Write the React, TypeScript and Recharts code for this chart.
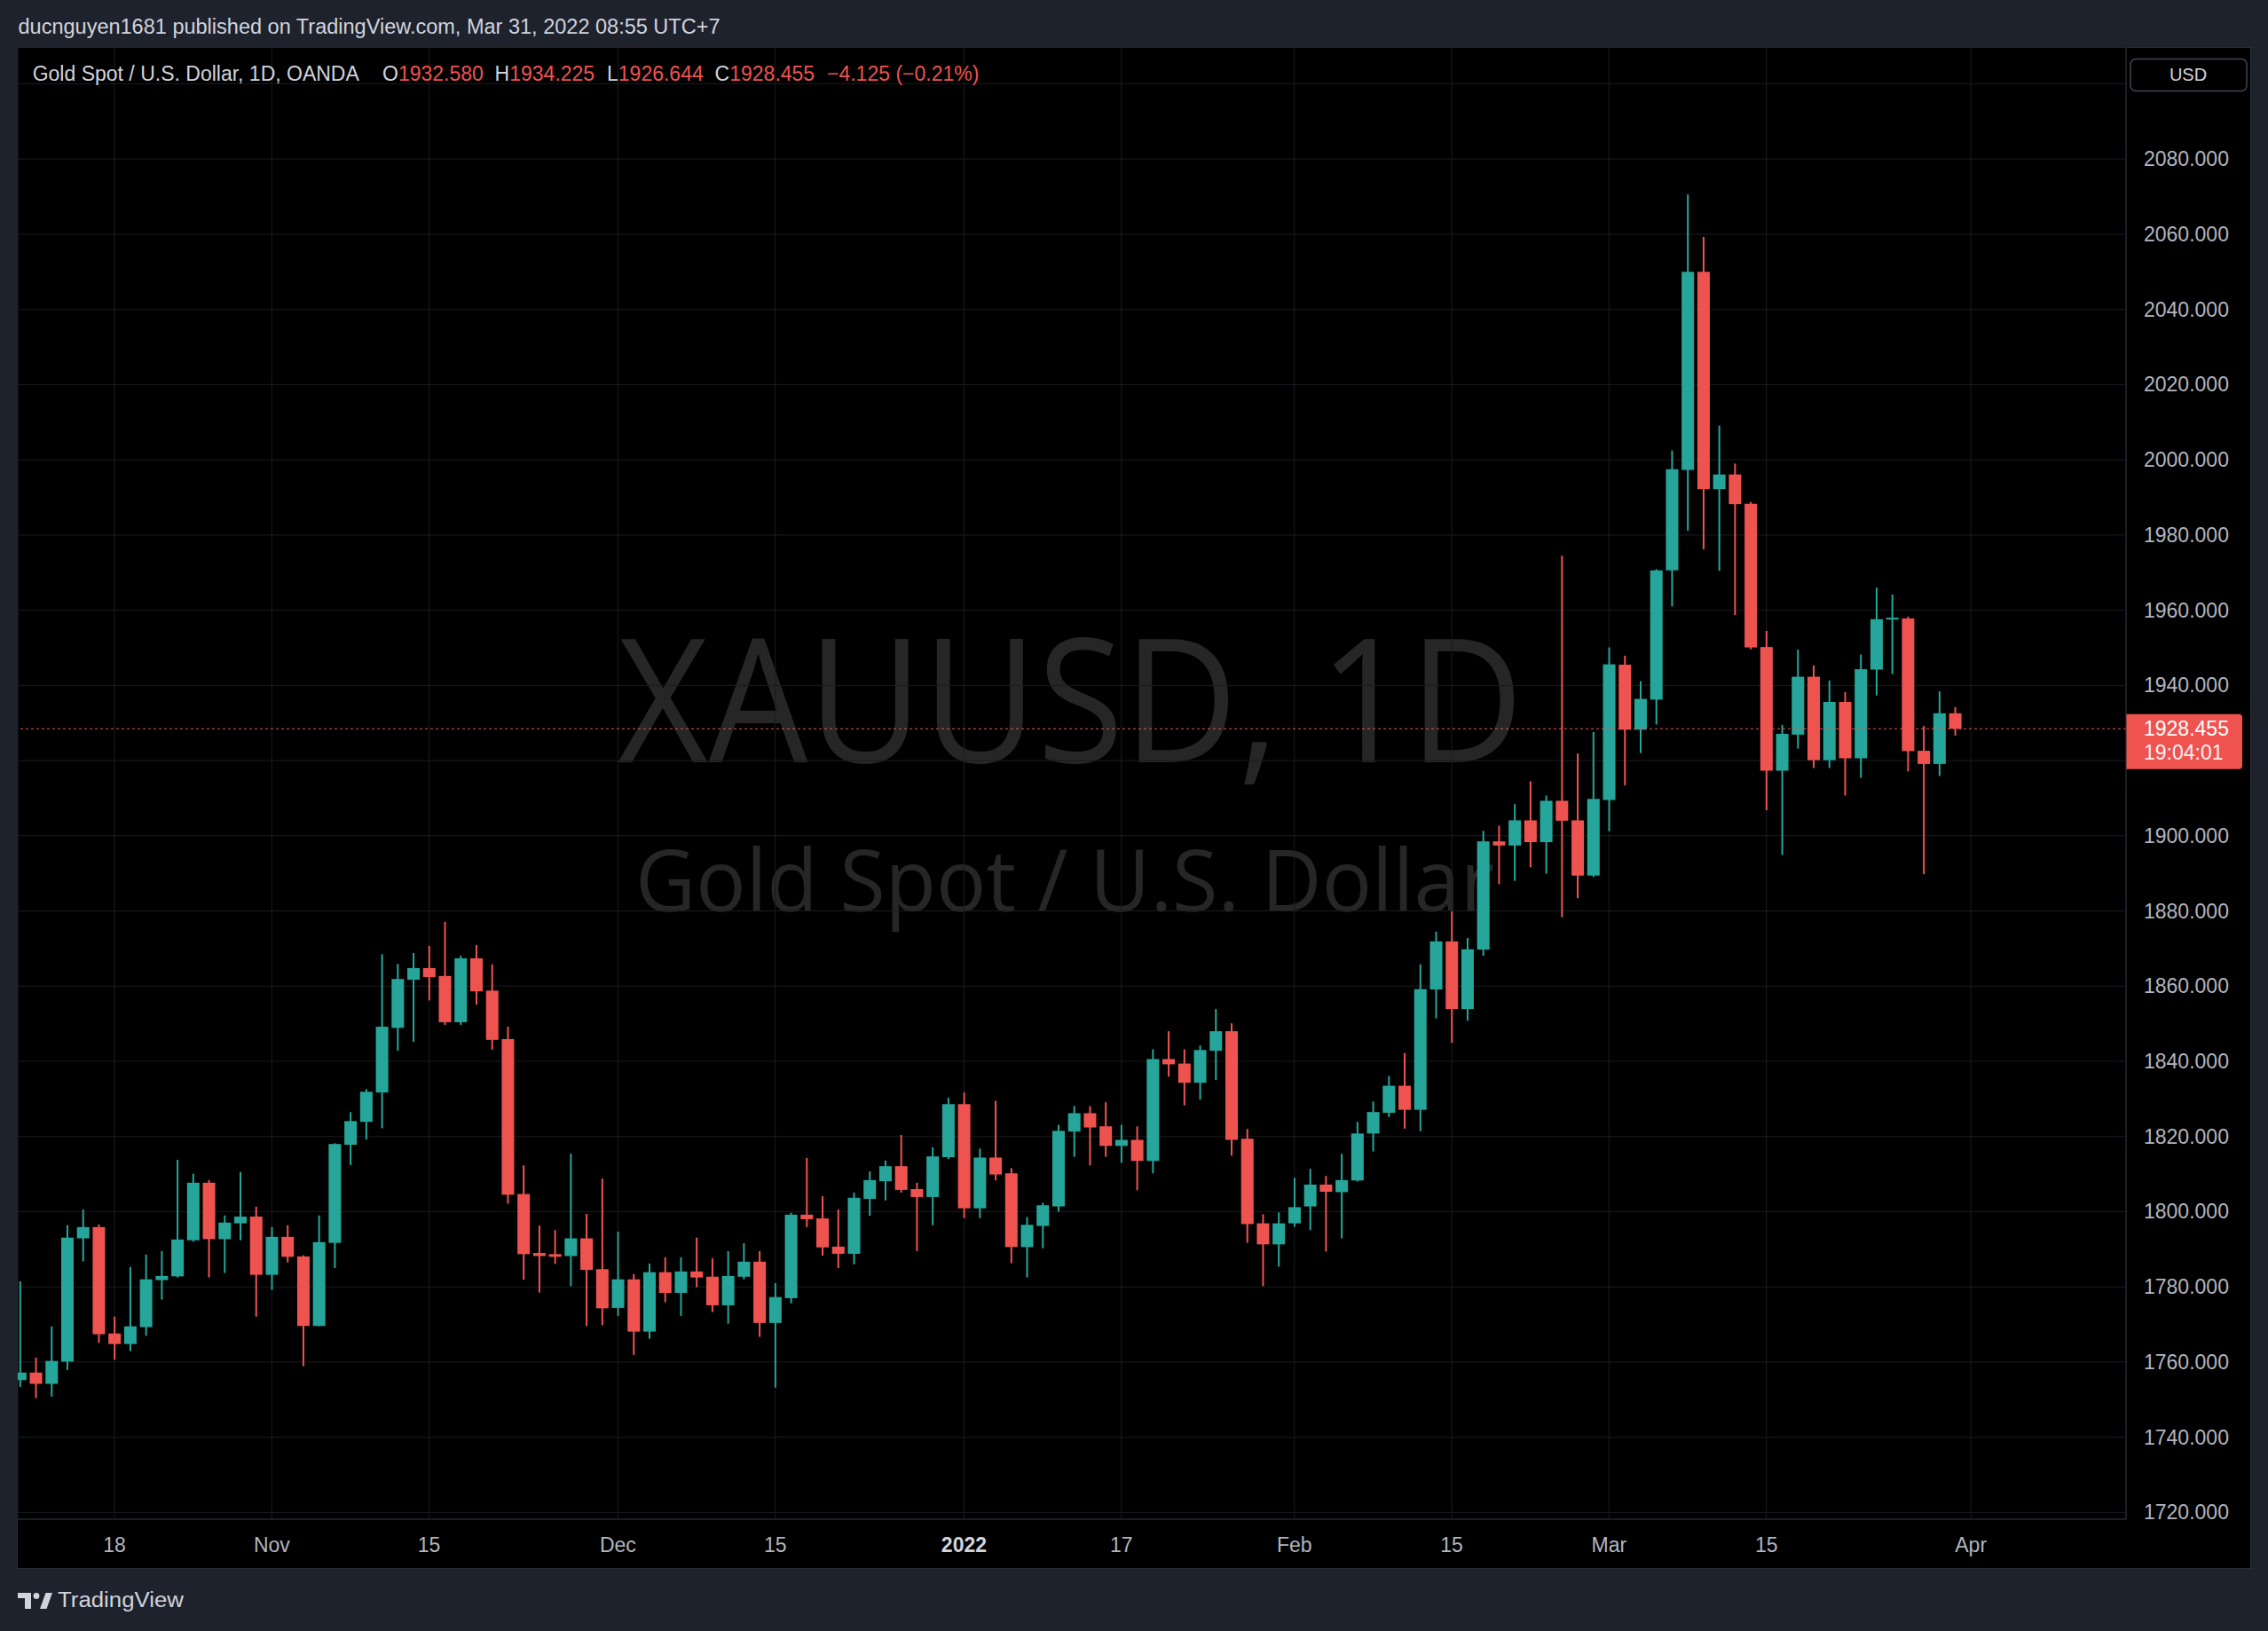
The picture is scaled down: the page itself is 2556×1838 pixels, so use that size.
import React from 'react';
import { ComposedChart, Bar, XAxis, YAxis, CartesianGrid, ReferenceLine } from 'recharts';

const dates = [
  '2021-10-08','2021-10-11','2021-10-12','2021-10-13','2021-10-14','2021-10-15','2021-10-18','2021-10-19','2021-10-20','2021-10-21',
  '2021-10-22','2021-10-25','2021-10-26','2021-10-27','2021-10-28','2021-10-29','2021-11-01','2021-11-02','2021-11-03','2021-11-04',
  '2021-11-05','2021-11-08','2021-11-09','2021-11-10','2021-11-11','2021-11-12','2021-11-15','2021-11-16','2021-11-17','2021-11-18',
  '2021-11-19','2021-11-22','2021-11-23','2021-11-24','2021-11-25','2021-11-26','2021-11-29','2021-11-30','2021-12-01','2021-12-02',
  '2021-12-03','2021-12-06','2021-12-07','2021-12-08','2021-12-09','2021-12-10','2021-12-13','2021-12-14','2021-12-15','2021-12-16',
  '2021-12-17','2021-12-20','2021-12-21','2021-12-22','2021-12-23','2021-12-27','2021-12-28','2021-12-29','2021-12-30','2021-12-31',
  '2022-01-03','2022-01-04','2022-01-05','2022-01-06','2022-01-07','2022-01-10','2022-01-11','2022-01-12','2022-01-13','2022-01-14',
  '2022-01-17','2022-01-18','2022-01-19','2022-01-20','2022-01-21','2022-01-24','2022-01-25','2022-01-26','2022-01-27','2022-01-28',
  '2022-01-31','2022-02-01','2022-02-02','2022-02-03','2022-02-04','2022-02-07','2022-02-08','2022-02-09','2022-02-10','2022-02-11',
  '2022-02-14','2022-02-15','2022-02-16','2022-02-17','2022-02-18','2022-02-21','2022-02-22','2022-02-23','2022-02-24','2022-02-25',
  '2022-02-28','2022-03-01','2022-03-02','2022-03-03','2022-03-04','2022-03-07','2022-03-08','2022-03-09','2022-03-10','2022-03-11',
  '2022-03-14','2022-03-15','2022-03-16','2022-03-17','2022-03-18','2022-03-21','2022-03-22','2022-03-23','2022-03-24','2022-03-25',
  '2022-03-28','2022-03-29','2022-03-30','2022-03-31',
];

const opens = [
  1755.2,1757.2,1754.2,1760.1,1792.9,1795.9,1767.6,1764.8,1769.3,1781.8,
  1782.8,1792.4,1807.7,1792.7,1796.9,1798.7,1783.2,1793.3,1788.1,1769.6,
  1791.7,1817.8,1823.9,1831.7,1848.9,1861.7,1864.8,1862.7,1850.4,1867.4,
  1858.8,1845.9,1804.7,1789.0,1788.7,1788.2,1792.9,1784.7,1774.4,1782.0,
  1768.1,1783.9,1778.4,1784.1,1782.7,1775.1,1782.7,1786.7,1770.4,1777.0,
  1799.2,1798.2,1790.7,1788.8,1803.4,1808.1,1812.1,1806.0,1803.9,1814.5,
  1828.6,1800.9,1814.4,1810.2,1790.6,1796.2,1801.4,1821.3,1826.2,1822.7,
  1817.5,1819.1,1813.5,1840.6,1839.4,1834.3,1842.8,1848.0,1819.4,1796.9,
  1791.3,1796.9,1801.4,1807.2,1805.2,1808.3,1820.8,1826.3,1833.5,1827.1,
  1859.1,1871.9,1853.9,1869.7,1898.5,1897.4,1904.1,1898.3,1909.3,1904.1,
  1889.4,1909.5,1945.5,1928.2,1936.2,1970.6,1997.3,2050.0,1992.2,1996.1,
  1988.3,1950.2,1917.3,1926.9,1942.3,1920.1,1935.6,1920.6,1944.2,1957.5,
  1957.8,1922.6,1919.1,1932.58,
];

const highs = [
  1781.5,1761.2,1769.5,1796.4,1800.6,1796.6,1772.1,1785.3,1788.6,1789.5,
  1813.8,1810.1,1808.4,1799.0,1810.5,1801.3,1795.9,1796.4,1788.4,1799.0,
  1818.2,1826.5,1832.6,1868.5,1865.9,1868.8,1870.7,1877.1,1868.1,1870.9,
  1865.8,1849.2,1812.3,1796.3,1795.1,1815.4,1799.4,1808.8,1794.7,1783.4,
  1786.2,1787.9,1787.9,1793.1,1787.6,1789.5,1791.6,1789.5,1781.0,1799.7,
  1814.3,1804.1,1800.6,1805.1,1810.7,1813.6,1820.4,1807.7,1817.1,1830.3,
  1831.7,1816.8,1829.5,1811.6,1798.6,1802.4,1823.1,1828.1,1828.1,1829.1,
  1823.1,1822.7,1843.2,1848.0,1843.2,1844.2,1853.9,1850.1,1822.0,1799.3,
  1799.8,1809.0,1811.4,1809.5,1815.4,1823.9,1829.3,1836.1,1842.2,1865.8,
  1874.5,1879.9,1872.8,1901.3,1902.7,1908.4,1914.5,1910.7,1974.5,1921.9,
  1927.6,1950.1,1947.9,1941.1,1970.9,2002.5,2070.6,2059.3,2009.1,1999.0,
  1988.8,1954.5,1929.5,1949.5,1945.3,1941.3,1938.2,1948.2,1966.0,1964.2,
  1958.3,1929.2,1938.4,1934.225,
];

const lows = [
  1753.4,1750.4,1750.8,1757.9,1786.8,1765.1,1760.6,1762.9,1767.0,1776.6,
  1782.5,1792.0,1782.5,1783.7,1792.4,1772.1,1779.2,1786.5,1758.9,1769.5,
  1785.0,1812.4,1819.2,1822.2,1842.8,1845.2,1856.2,1849.7,1849.7,1855.1,
  1843.1,1802.1,1781.9,1778.5,1786.1,1780.2,1769.6,1769.8,1772.3,1761.9,
  1766.2,1775.9,1772.3,1779.9,1773.3,1770.2,1782.0,1766.7,1753.2,1775.6,
  1795.9,1788.3,1785.0,1786.0,1798.9,1803.0,1805.1,1789.5,1796.4,1814.0,
  1798.3,1798.3,1808.3,1786.3,1782.5,1790.3,1800.0,1814.6,1812.3,1814.6,
  1813.0,1805.7,1810.2,1835.9,1828.3,1829.8,1835.0,1814.9,1791.7,1780.2,
  1785.4,1796.0,1795.1,1789.4,1792.9,1808.0,1816.0,1825.2,1822.1,1821.4,
  1851.4,1844.9,1850.8,1868.1,1887.1,1888.0,1891.7,1889.9,1878.3,1883.4,
  1889.0,1901.2,1913.4,1922.0,1929.6,1961.0,1981.1,1976.2,1970.5,1958.7,
  1949.6,1906.8,1894.9,1923.2,1918.0,1918.0,1910.7,1915.4,1937.3,1943.0,
  1917.1,1889.8,1915.9,1926.644,
];

const closes = [
  1757.2,1754.2,1760.3,1793.1,1795.9,1767.4,1764.8,1769.5,1782.0,1782.9,
  1792.6,1807.7,1792.7,1797.1,1798.7,1783.2,1793.3,1788.0,1769.6,1791.9,
  1818.0,1824.1,1831.9,1849.2,1861.9,1864.8,1862.4,1850.4,1867.4,1858.6,
  1845.7,1804.5,1788.7,1788.2,1788.0,1792.9,1784.5,1774.3,1782.0,1768.1,
  1783.9,1778.4,1784.1,1782.5,1775.1,1782.9,1786.7,1770.4,1777.3,1799.2,
  1798.0,1790.5,1788.8,1803.7,1808.4,1812.1,1805.8,1803.9,1814.7,1828.6,
  1800.9,1814.4,1809.9,1790.6,1796.5,1801.7,1821.5,1826.2,1822.4,1817.5,
  1819.1,1813.5,1840.6,1839.2,1834.3,1843.0,1848.0,1819.1,1796.7,1791.3,
  1796.9,1801.2,1807.2,1805.3,1808.4,1820.8,1826.5,1833.5,1827.1,1859.2,
  1871.9,1853.9,1869.8,1898.5,1897.4,1904.1,1898.3,1909.3,1904.0,1889.4,
  1909.8,1945.6,1928.2,1936.4,1970.6,1997.5,2050.0,1992.2,1996.1,1988.2,
  1950.1,1917.3,1927.1,1942.3,1920.1,1935.6,1920.6,1944.3,1957.6,1958.0,
  1922.5,1919.1,1932.58,1928.455,
];

const tickDates = ['2021-10-18','2021-11-01','2021-11-15','2021-12-01','2021-12-15','2022-01-03','2022-01-17','2022-02-01','2022-02-15','2022-03-01','2022-03-15','2022-04-01'];
const tickLabels = ['18','Nov','15','Dec','15','2022','17','Feb','15','Mar','15','Apr'];
const boldTicks = ['2022'];
const priceTicks = [1720,1740,1760,1780,1800,1820,1840,1860,1880,1900,1920,1940,1960,1980,2000,2020,2040,2060,2080,2100];
const priceLabelMax = 2080;

const symbolName = 'Gold Spot / U.S. Dollar, 1D, OANDA';
const watermarkTitle = 'XAUUSD, 1D';
const watermarkSub = 'Gold Spot / U.S. Dollar';
const publishedLine = 'ducnguyen1681 published on TradingView.com, Mar 31, 2022 08:55 UTC+7';
const countdown = '19:04:01';

const UP = '#26a69a';
const DOWN = '#ef5350';
const FONT = '"Liberation Sans", Arial, sans-serif';
const AXIS_TEXT = '#b2b5be';

const data = dates.map((d, i) => ({
  i,
  date: d,
  open: opens[i],
  high: highs[i],
  low: lows[i],
  close: closes[i],
  range: [lows[i], highs[i]],
}));

const tickIdx = tickDates.map((t) => {
  const k = dates.indexOf(t);
  return k >= 0 ? k : dates.length;
});
const tickLabelOf = (v: number) => {
  const k = tickIdx.indexOf(v);
  return k >= 0 ? tickLabels[k] : '';
};

const last = data[data.length - 1];
const prevClose = closes[closes.length - 2];
const chg = last.close - prevClose;
const chgPct = (chg / prevClose) * 100;
const fmtSigned = (v: number, d: number) => (v < 0 ? '\u2212' : '+') + Math.abs(v).toFixed(d);

const Candle = (props: any) => {
  const { x, y, width, height, payload } = props;
  if (x == null || y == null || !payload) return null;
  const top = Math.min(y, y + height);
  const bot = Math.max(y, y + height);
  const { open, close, high, low } = payload;
  const span = high - low || 1;
  const toPx = (v: number) => top + ((high - v) / span) * (bot - top);
  const color = close >= open ? UP : DOWN;
  const cx = x + width / 2;
  const bTop = toPx(Math.max(open, close));
  const bBot = toPx(Math.min(open, close));
  const bh = Math.max(1.5, bBot - bTop);
  return (
    <g>
      <rect x={cx - 1} y={top} width={2} height={Math.max(1, bot - top)} fill={color} />
      <rect x={x} y={bTop} width={width} height={bh} fill={color} />
    </g>
  );
};

const XTick = (props: any) => {
  const { x, y, payload } = props;
  const label = tickLabelOf(payload.value);
  const bold = boldTicks.includes(label);
  return (
    <text x={x} y={y} textAnchor="middle" fill={bold ? '#d1d4dc' : AXIS_TEXT} fontSize={23} fontFamily={FONT} fontWeight={bold ? 700 : 400}>
      {label}
    </text>
  );
};

const YTick = (props: any) => {
  const { x, y, payload } = props;
  const v = payload.value;
  if (v > priceLabelMax) return null;
  const d = v - last.close;
  if (d > -15 && d < 5) return null;
  return (
    <text x={x} y={y + 8} textAnchor="start" fill={AXIS_TEXT} fontSize={23} fontFamily={FONT}>
      {v.toFixed(3)}
    </text>
  );
};

const PriceTag = (props: any) => {
  const vb = props.viewBox || {};
  const left = (vb.x || 0) + (vb.width || 0);
  const ly = vb.y || 0;
  const w = 131;
  const top = ly - 16.5;
  const h = 62;
  const r = 4;
  const d = `M${left} ${top} H${left + w - r} Q${left + w} ${top} ${left + w} ${top + r} V${top + h - r} Q${left + w} ${top + h} ${left + w - r} ${top + h} H${left} Z`;
  return (
    <g>
      <path d={d} fill={DOWN} />
      <text x={left + 20} y={ly + 8} fill="#ffffff" fontSize={23} fontFamily={FONT}>{last.close.toFixed(3)}</text>
      <text x={left + 20} y={ly + 35} fill="#ffffff" fontSize={23} fontFamily={FONT} opacity={0.92}>{countdown}</text>
    </g>
  );
};

export default function App() {
  return (
    <div style={{ position: 'absolute', left: 0, top: 0, width: 2556, height: 1838, overflow: 'hidden', background: '#1e222d' }}>
      <svg width={2556} height={1838} style={{ position: 'absolute', left: 0, top: 0 }}>
        <rect x={0} y={0} width={2556} height={1838} fill="#1e222d" />
        <rect x={19.5} y={53.5} width={2517} height={1714} fill="#000000" stroke="#2a2e39" strokeWidth={1} />
        <text x={696} y={859} fontSize={195} fontFamily='"Open Sans", "Noto Sans", sans-serif' fill="#262626" textLength={1021} lengthAdjust="spacingAndGlyphs">
          {watermarkTitle}
        </text>
        <text x={716} y={1027} fontSize={97} fontFamily='"Open Sans", "Noto Sans", sans-serif' fill="#262626" textLength={968} lengthAdjust="spacingAndGlyphs">
          {watermarkSub}
        </text>
      </svg>

      <div style={{ position: 'absolute', left: 0, top: 0 }}>
        <ComposedChart width={2556} height={1838} data={data} margin={{ top: 53, right: 20, bottom: 71, left: 20 }}>
          <CartesianGrid stroke="#1a1c21" strokeWidth={1} />
          <XAxis
            dataKey="i"
            type="number"
            domain={[-0.15, 133.86]}
            allowDataOverflow
            ticks={tickIdx}
            interval={0}
            height={55}
            tickSize={0}
            tickMargin={37}
            axisLine={{ stroke: '#2a2e39' }}
            tickLine={false}
            tick={<XTick />}
          />
          <YAxis
            orientation="right"
            type="number"
            domain={[1718.2, 2109.8]}
            allowDataOverflow
            ticks={priceTicks}
            interval={0}
            width={140}
            tickSize={0}
            tickMargin={20}
            axisLine={{ stroke: '#2a2e39' }}
            tickLine={false}
            tick={<YTick />}
          />
          <Bar dataKey="range" barSize={14} isAnimationActive={false} shape={(p: any) => <Candle {...p} />} />
          <ReferenceLine
            y={last.close}
            stroke={DOWN}
            strokeWidth={1}
            strokeDasharray="3 3"
            label={(p: any) => <PriceTag {...p} />}
          />
        </ComposedChart>
      </div>

      <svg width={2556} height={1838} style={{ position: 'absolute', left: 0, top: 0, pointerEvents: 'none' }}>
        <text x={20.5} y={37.5} fontSize={23} fontFamily={FONT} fill="#d1d4dc" textLength={791} lengthAdjust="spacingAndGlyphs">
          {publishedLine}
        </text>
        <text y={91} fontSize={23} fontFamily={FONT}>
          <tspan x={36.7} fill="#d1d4dc">{symbolName}</tspan>
          <tspan x={431} fill="#d1d4dc">O</tspan>
          <tspan fill={DOWN}>{last.open.toFixed(3)}</tspan>
          <tspan x={557.6} fill="#d1d4dc">H</tspan>
          <tspan fill={DOWN}>{last.high.toFixed(3)}</tspan>
          <tspan x={684} fill="#d1d4dc">L</tspan>
          <tspan fill={DOWN}>{last.low.toFixed(3)}</tspan>
          <tspan x={805.6} fill="#d1d4dc">C</tspan>
          <tspan fill={DOWN}>{last.close.toFixed(3)}</tspan>
          <tspan x={932} fill={chg < 0 ? DOWN : UP}>{`${fmtSigned(chg, 3)} (${fmtSigned(chgPct, 2)}%)`}</tspan>
        </text>
        <rect x={2401} y={66.5} width={131} height={36} rx={6} fill="#000000" stroke="#434651" strokeWidth={1.5} />
        <text x={2466} y={91} textAnchor="middle" fontSize={20} fontFamily={FONT} fill="#d1d4dc">USD</text>
        <g fill="#d1d4dc">
          <path d="M20 1795 H35 V1813 H28 V1801 H20 Z" />
          <circle cx={41} cy={1798.5} r={3.4} />
          <path d="M45 1813 L51.5 1795 H59 L52.5 1813 Z" />
        </g>
        <text x={65} y={1811} fontSize={23} fontFamily={FONT} fill="#d1d4dc" textLength={142} lengthAdjust="spacingAndGlyphs">TradingView</text>
      </svg>
    </div>
  );
}
